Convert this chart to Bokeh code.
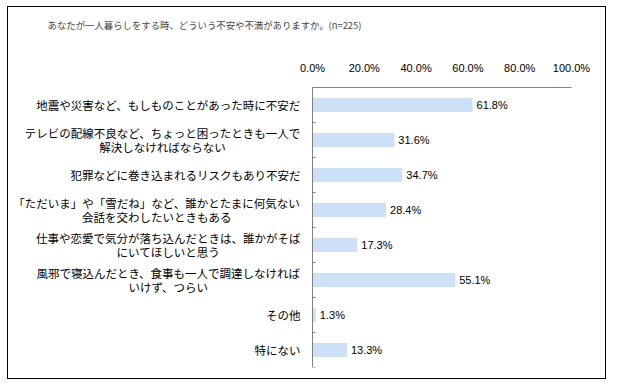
from bokeh.plotting import figure
from bokeh.models import Range1d, LinearAxis, FixedTicker, PrintfTickFormatter, ColumnDataSource, Span
from bokeh.embed import file_html
from bokeh.resources import INLINE
from bokeh.core.properties import value

title_text = "あなたが一人暮らしをする時、どういう不安や不満がありますか。(n=225)"
categories = [
    "地震や災害など、もしものことがあった時に不安だ",
    "テレビの配線不良など、ちょっと困ったときも一人で\n解決しなければならない",
    "犯罪などに巻き込まれるリスクもあり不安だ",
    "「ただいま」や「雪だね」など、誰かとたまに何気ない\n会話を交わしたいときもある",
    "仕事や恋愛で気分が落ち込んだときは、誰かがそば\nにいてほしいと思う",
    "風邪で寝込んだとき、食事も一人で調達しなければ\nいけず、つらい",
    "その他",
    "特にない",
]
values = [61.8, 31.6, 34.7, 28.4, 17.3, 55.1, 1.3, 13.3]
x_ticks = [0, 20, 40, 60, 80, 100]

n = len(categories)
pos = [i + 0.5 for i in range(n)]
FS = 11.5
src = ColumnDataSource(dict(y=pos, v=values, lab=["%.1f%%" % v for v in values]))
cat_src = ColumnDataSource(dict(
    y=pos, cat=categories,
    off=[-(12 + max(len(l) for l in c.split("\n")) * FS / 2) for c in categories]))

W, H = 599, 373
AX_L, AX_W = 304, 259          # pixel position / width of the 0..100 % scale in the canvas
x_lo = -AX_L / AX_W * 100
x_hi = (W - AX_L) / AX_W * 100

p = figure(width=W, height=H, output_backend="svg", toolbar_location=None,
           x_range=Range1d(x_lo, x_hi), y_range=Range1d(n, 0),
           x_axis_location=None, y_axis_location=None,
           min_border_left=0, min_border_right=0, min_border_top=80, min_border_bottom=13)
p.styles = {"border": "1px solid black", "margin-left": "7px", "margin-top": "6px"}
p.outline_line_color = None
p.xgrid.visible = False
p.ygrid.visible = False
p.background_fill_color = "white"
p.border_fill_color = "white"

p.title.text = title_text
p.title.align = "left"
p.title.offset = 39
p.title.vertical_align = "top"
p.title.text_font = "Noto Sans CJK JP"
p.title.text_font_size = "9.4px"
p.title.text_font_style = "normal"
p.title.standoff = 20

top = LinearAxis(ticker=FixedTicker(ticks=x_ticks), formatter=PrintfTickFormatter(format="%.1f%%"),
                 bounds=(x_ticks[0], x_ticks[-1]))
top.axis_line_color = "#808080"
top.major_tick_in = 0
top.major_tick_out = 0
top.minor_tick_line_color = None
top.major_label_standoff = 14
top.major_label_text_font = "Liberation Sans"
top.major_label_text_font_size = "11px"
top.major_label_text_color = "black"
top.axis_label = "\u00a0"
top.axis_label_text_font_size = "9px"
top.axis_label_standoff = 2
p.add_layout(top, "above")

# vertical category axis at 0 %
p.add_layout(Span(location=0, dimension="height", line_color="#808080", line_width=1))
p.ray(x=0, y=list(range(n + 1)), length=3, length_units="screen", angle=0,
      line_color="#808080", line_width=1)

p.hbar(y="y", left=0, right="v", height=0.4, source=src, fill_color="#CCE0F8", line_color=None)
p.text(x="v", y="y", text="lab", source=src, x_offset=4, text_baseline="middle",
       text_font=value("Liberation Sans"), text_font_size="11px", text_color="black")

p.text(x=0, y="y", text="cat", x_offset="off", source=cat_src, text_align="center",
       text_baseline="middle", text_font=value("Noto Sans CJK JP"),
       text_font_size="%.1fpx" % FS, text_line_height=0.88, text_color="black")

open("out.html", "w").write(file_html(p, INLINE))
